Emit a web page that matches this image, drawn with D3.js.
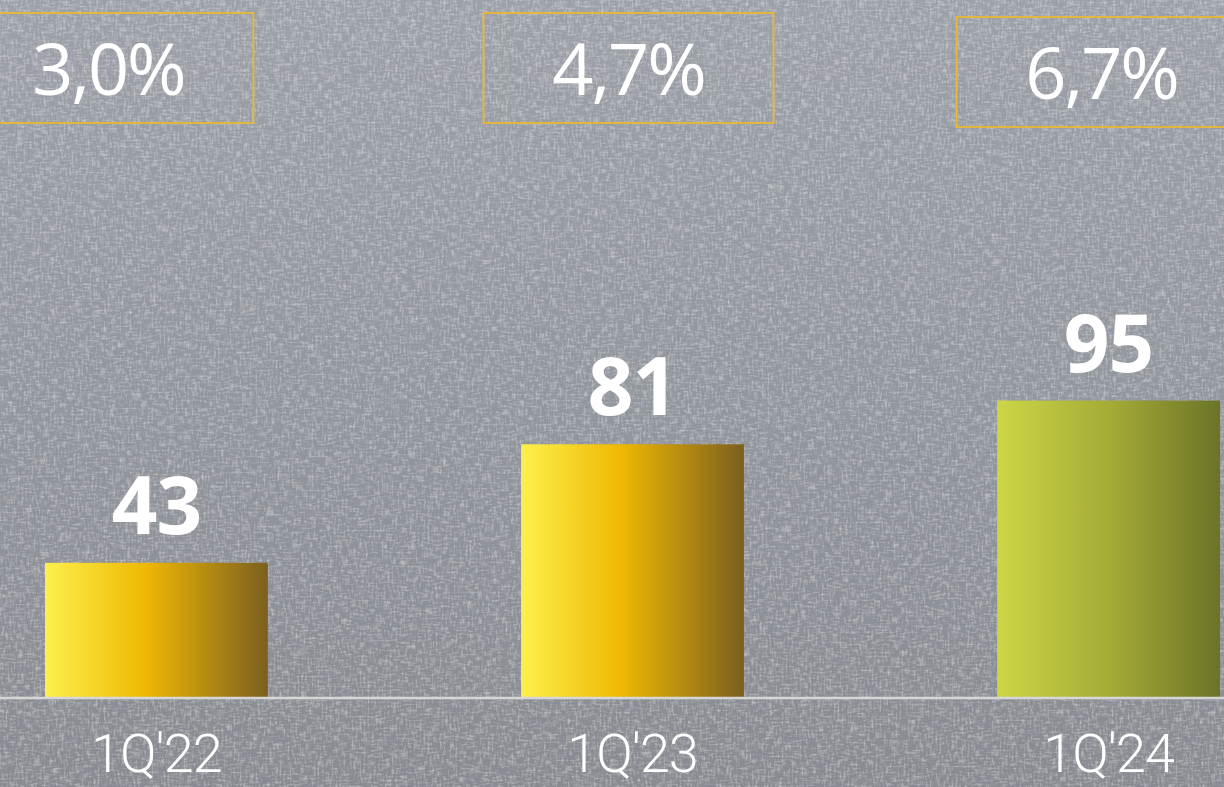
<html>
<head>
  <meta charset="utf-8">
  <script src="https://d3js.org/d3.v7.min.js"></script>
  <style>
    body { margin: 0; background: #8f949b; overflow: hidden; }
    text { font-family: "Open Sans", "Noto Sans", sans-serif; fill: #fff; }
    .val { font-weight: 700; font-size: 80px; letter-spacing: -1px; }
    .pct { font-weight: 400; font-size: 72px; letter-spacing: -2px; }
    .cat { font-family: Roboto, "Open Sans", sans-serif; font-weight: 300; font-size: 54px; letter-spacing: -1px; }
  </style>
</head>
<body>
<svg id="chart" width="1224" height="787"></svg>
<script>
// data
var quarters = ["1Q'22", "1Q'23", "1Q'24"];
var values = [43, 81, 95];
var ratios = ["3,0%", "4,7%", "6,7%"];
var barTheme = ["gold", "gold", "olive"];

// layout for the ratio boxes (offset from bar centre)
var boxShift = [-48, -4, -7];
var boxTop = [13, 13, 17];

var W = 1224, H = 787;
var svg = d3.select("#chart");
var defs = svg.append("defs");

// background shading
var bg = defs.append("linearGradient").attr("id", "bg")
  .attr("x1", 0).attr("y1", 0).attr("x2", 0).attr("y2", 1);
bg.append("stop").attr("offset", "0%").attr("stop-color", "#9da1a9");
bg.append("stop").attr("offset", "55%").attr("stop-color", "#90949b");
bg.append("stop").attr("offset", "100%").attr("stop-color", "#85888e");

// canvas like texture, kept faint
var f = defs.append("filter").attr("id", "canvas")
  .attr("x", 0).attr("y", 0).attr("width", "100%").attr("height", "100%");
f.append("feTurbulence").attr("type", "fractalNoise")
  .attr("baseFrequency", "0.5 0.12").attr("numOctaves", 2).attr("seed", 3).attr("result", "n1");
f.append("feTurbulence").attr("type", "fractalNoise")
  .attr("baseFrequency", "0.12 0.5").attr("numOctaves", 2).attr("seed", 8).attr("result", "n2");
f.append("feComposite").attr("in", "n1").attr("in2", "n2")
  .attr("operator", "arithmetic").attr("k2", 0.5).attr("k3", 0.5).attr("result", "n");
f.append("feColorMatrix").attr("in", "n").attr("type", "matrix")
  .attr("values", "0 0 0 0 1  0 0 0 0 1  0 0 0 0 1  1.0 0 0 0 -0.45").attr("result", "hi");
f.append("feColorMatrix").attr("in", "n").attr("type", "matrix")
  .attr("values", "0 0 0 0 0.3  0 0 0 0 0.32  0 0 0 0 0.36  -1.0 0 0 0 0.55").attr("result", "lo");
f.append("feMerge").selectAll("feMergeNode")
  .data(["SourceGraphic", "lo", "hi"]).enter().append("feMergeNode").attr("in", function(d) { return d; });

var themes = {
  gold: [["0%", "#fdf04c"], ["45%", "#efb802"], ["100%", "#7b5f1f"]],
  olive: [["0%", "#ccd646"], ["50%", "#a5ac36"], ["100%", "#6b7427"]]
};
Object.keys(themes).forEach(function(k) {
  var g = defs.append("linearGradient").attr("id", "grad-" + k)
    .attr("x1", 0).attr("y1", 0).attr("x2", 1).attr("y2", 0);
  themes[k].forEach(function(s) {
    g.append("stop").attr("offset", s[0]).attr("stop-color", s[1]);
  });
});

svg.append("rect").attr("width", W).attr("height", H)
  .attr("fill", "url(#bg)").attr("filter", "url(#canvas)");

var x = d3.scaleBand().domain(quarters).range([45, 1220])
  .paddingInner(0.532).paddingOuter(0);
var y = d3.scaleLinear().domain([0, 100]).range([697, 385]);

// bars
svg.append("g").selectAll("rect")
  .data(quarters).enter().append("rect")
  .attr("x", function(d) { return x(d); })
  .attr("y", function(d, i) { return y(values[i]); })
  .attr("width", x.bandwidth())
  .attr("height", function(d, i) { return y(0) - y(values[i]); })
  .attr("fill", function(d, i) { return "url(#grad-" + barTheme[i] + ")"; });

// baseline
svg.append("line").attr("x1", 0).attr("x2", W)
  .attr("y1", y(0) + 1).attr("y2", y(0) + 1)
  .attr("stroke", "#d6d6d6").attr("stroke-width", 2.5);

// value labels
svg.append("g").selectAll("text")
  .data(quarters).enter().append("text")
  .attr("class", "val")
  .attr("text-anchor", "middle")
  .attr("x", function(d) { return x(d) + x.bandwidth() / 2; })
  .attr("y", function(d, i) { return y(values[i]) - 29; })
  .text(function(d, i) { return values[i]; });

// category labels
svg.append("g").selectAll("text")
  .data(quarters).enter().append("text")
  .attr("class", "cat")
  .attr("text-anchor", "middle")
  .attr("x", function(d) { return x(d) + x.bandwidth() / 2; })
  .attr("y", 772)
  .text(function(d) { return d; });

// ratio boxes
var boxes = svg.append("g").selectAll("g")
  .data(quarters).enter().append("g")
  .attr("transform", function(d, i) {
    return "translate(" + (x(d) + x.bandwidth() / 2 + boxShift[i]) + "," + boxTop[i] + ")";
  });
boxes.append("rect")
  .attr("x", -145).attr("y", 0).attr("width", 290).attr("height", 110)
  .attr("fill", "none").attr("stroke", "#e8b935").attr("stroke-width", 1.8);
boxes.append("text")
  .attr("class", "pct")
  .attr("text-anchor", "middle")
  .attr("x", 0).attr("y", 82)
  .text(function(d, i) { return ratios[i]; });
</script>
</body>
</html>
